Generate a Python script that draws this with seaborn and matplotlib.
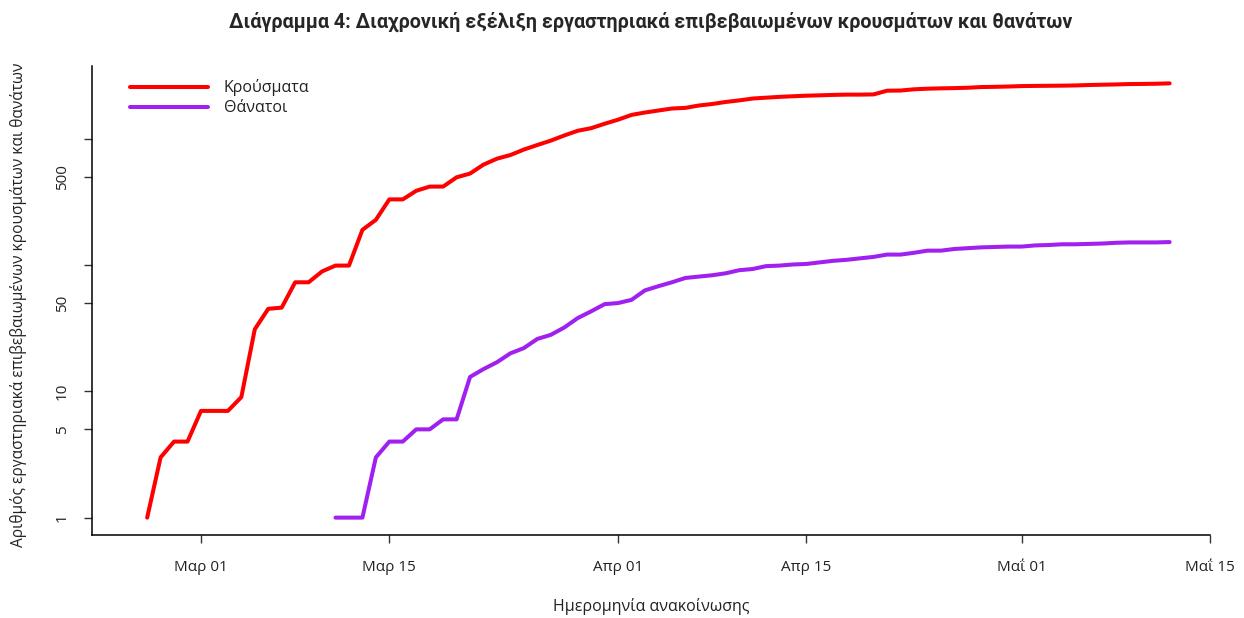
import matplotlib
matplotlib.use("Agg")
import matplotlib.pyplot as plt
import seaborn as sns
import pandas as pd
import numpy as np

# ---- data ----
case_start = "2020-02-26"
cases = [1, 3, 4, 4,
         7, 7, 7, 9, 31, 45, 46, 73, 73, 89, 99, 99, 190, 228, 331, 331, 387, 418, 418, 495,
         530, 624, 695, 743, 821, 892, 966, 1061, 1156, 1212, 1314,
         1415, 1544, 1613, 1673, 1735, 1755, 1832, 1884, 1955, 2011, 2081, 2114, 2145, 2170,
         2192, 2207, 2224, 2235, 2235, 2245, 2401, 2408, 2463, 2490, 2506, 2517, 2534, 2566,
         2576, 2591,
         2612, 2620, 2626, 2632, 2642, 2663, 2678, 2691, 2710, 2716, 2726, 2744]
death_start = "2020-03-11"
deaths = [1, 1, 1, 3, 4, 4, 5, 5, 6, 6, 13, 15, 17, 20, 22, 26, 28, 32, 38, 43, 49,
          50, 53, 63, 68, 73, 79, 81, 83, 86, 91, 93, 98, 99, 101, 102, 105, 108, 110, 113,
          116, 121, 121, 125, 130, 130, 134, 136, 138, 139, 140,
          140, 143, 144, 146, 146, 147, 148, 150, 151, 151, 151, 152]
series_names = ["Κρούσματα", "Θάνατοι"]
series_colors = ["#FF0000", "#A020F0"]
x_tick_dates = ["2020-03-01", "2020-03-15", "2020-04-01", "2020-04-15", "2020-05-01", "2020-05-15"]
x_tick_labels = ["Μαρ 01", "Μαρ 15", "Απρ 01", "Απρ 15", "Μα\u0390 01", "Μα\u0390 15"]
y_ticks = [1, 5, 10, 50, 100, 500, 1000]
y_tick_labels = ["1", "5", "10", "50", "", "500", ""]
title = "Διάγραμμα 4: Διαχρονική εξέλιξη εργαστηριακά επιβεβαιωμένων κρουσμάτων και θανάτων"
xlabel = "Ημερομηνία ανακοίνωσης"
ylabel = "Αριθμός εργαστηριακά επιβεβαιωμένων κρουσμάτων και θανάτων"

df = pd.concat([
    pd.DataFrame({"date": pd.date_range(case_start, periods=len(cases), freq="D"),
                  "value": cases, "series": series_names[0]}),
    pd.DataFrame({"date": pd.date_range(death_start, periods=len(deaths), freq="D"),
                  "value": deaths, "series": series_names[1]}),
], ignore_index=True)

sns.set_theme(style="white")
plt.rcParams["font.family"] = ["Open Sans", "DejaVu Sans"]

fig = plt.figure(figsize=(12.44, 6.18), dpi=100)
ax = fig.add_axes([92 / 1244, 1 - 535 / 618, (1210 - 92) / 1244, (535 - 66) / 618])

sns.lineplot(data=df, x="date", y="value", hue="series", hue_order=series_names,
             palette=series_colors, linewidth=2.9, ax=ax, legend=True)

ax.set_yscale("log")
lo, hi = 0.0, np.log10(max(cases))
ext = 0.04 * (hi - lo)
ax.set_ylim(10 ** (lo - ext), 10 ** (hi + ext))
ax.set_xlim(pd.Timestamp(case_start) - pd.Timedelta(days=4.1),
            pd.Timestamp("2020-05-15"))

ax.set_yticks(y_ticks)
ax.set_yticklabels(y_tick_labels, rotation=90, va="center")
ax.yaxis.set_minor_locator(matplotlib.ticker.NullLocator())
ax.set_xticks([pd.Timestamp(d) for d in x_tick_dates])
ax.set_xticklabels(x_tick_labels)

for s in ["top", "right"]:
    ax.spines[s].set_visible(False)
for s in ["left", "bottom"]:
    ax.spines[s].set_color("black")
    ax.spines[s].set_linewidth(1.1)
ax.tick_params(axis="both", which="major", length=6, width=1.0, color="#333333",
               direction="out", left=True, bottom=True, labelsize=11, labelcolor="#222222", pad=10)
ax.tick_params(axis="x", pad=12)

ax.set_xlabel(xlabel, fontsize=11.5, color="#222222", va="center")
ax.xaxis.set_label_coords(0.5, -0.1535)
ax.set_ylabel(ylabel, fontsize=11.2, color="#222222", va="center")
ax.yaxis.set_label_coords(-0.066, 0.49)

ax.text(0.5, 1.0938, title, transform=ax.transAxes, ha="center", va="center",
        fontsize=14.2, fontweight="bold", family=["Roboto", "DejaVu Sans"])

leg = ax.legend(loc="upper left", bbox_to_anchor=(0.028, 0.985), frameon=False,
                handlelength=4.9, handletextpad=1.0, fontsize=11.5, labelspacing=0.25,
                borderaxespad=0)
for t in leg.get_texts():
    t.set_color("#222222")

fig.savefig("out.png", dpi=100)
